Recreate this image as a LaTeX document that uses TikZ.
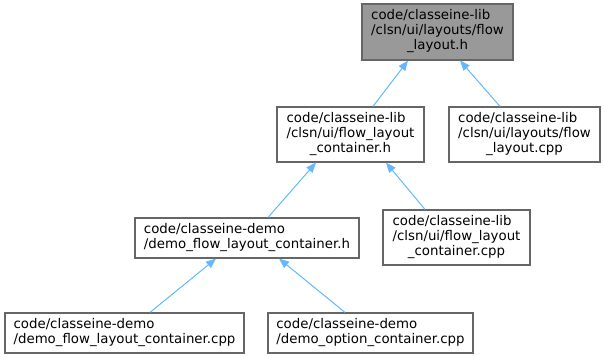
\documentclass[tikz,border=0pt]{standalone}
\usepackage{fontspec}
\setmainfont{DejaVu Sans}
\usetikzlibrary{arrows.meta}
\newdimen\pxu \pxu=0.75pt
\definecolor{edgeblue}{HTML}{63B8FF}
\definecolor{boxline}{HTML}{666666}
\definecolor{rootfill}{HTML}{999999}
\newcommand{\twolines}[2]{\begin{tabular}{@{}l@{}}#1\\#2\end{tabular}}
\newcommand{\threelines}[3]{\begin{tabular}{@{}l@{}}#1\\#2\\\multicolumn{1}{@{}c@{}}{#3}\end{tabular}}
\begin{document}
\begin{tikzpicture}[x=0.75pt,y=-0.75pt,
  file/.style={draw=boxline, line width=0.9pt, fill=white, inner sep=0pt,
    font=\fontsize{10}{11.25}\selectfont},
  rootfile/.style={file, fill=rootfill},
  edge/.style={draw=edgeblue, line width=0.75pt,
    -{Triangle[length=7.5pt,width=6pt]}}]
\useasboundingbox (0,0) rectangle (605,359);

% include hierarchy
\node[rootfile, minimum width=151\pxu, minimum height=56\pxu] (root) at (437.5,32)
  {\threelines{code/classeine-lib}{/clsn/ui/layouts/flow}{\_layout.h}};
\node[file, minimum width=147\pxu, minimum height=55\pxu] (flch) at (350.5,134.5)
  {\threelines{code/classeine-lib}{/clsn/ui/flow\_layout}{\_container.h}};
\node[file, minimum width=151\pxu, minimum height=55\pxu] (flcpp) at (524.5,134.5)
  {\threelines{code/classeine-lib}{/clsn/ui/layouts/flow}{\_layout.cpp}};
\node[file, minimum width=224\pxu, minimum height=40\pxu] (demoh) at (247,238)
  {\twolines{code/classeine-demo}{/demo\_flow\_layout\_container.h}};
\node[file, minimum width=147\pxu, minimum height=55\pxu] (flccpp) at (456.5,237.5)
  {\threelines{code/classeine-lib}{/clsn/ui/flow\_layout}{\_container.cpp}};
\node[file, minimum width=239\pxu, minimum height=40\pxu] (democpp) at (124.5,333)
  {\twolines{code/classeine-demo}{/demo\_flow\_layout\_container.cpp}};
\node[file, minimum width=205\pxu, minimum height=40\pxu] (optcpp) at (370.5,333)
  {\twolines{code/classeine-demo}{/demo\_option\_container.cpp}};

% dependency arrows
\draw[edge] ([xshift=22.5\pxu]flch.north) -- ([xshift=-29.5\pxu]root.south);
\draw[edge] ([xshift=-24.5\pxu]flcpp.north) -- ([xshift=22.5\pxu]root.south);
\draw[edge] ([xshift=21\pxu]demoh.north) -- ([xshift=-34.5\pxu]flch.south);
\draw[edge] ([xshift=-31.5\pxu]flccpp.north) -- ([xshift=35.5\pxu]flch.south);
\draw[edge] ([xshift=25.5\pxu]democpp.north) -- ([xshift=-31\pxu]demoh.south);
\draw[edge] ([xshift=-25.5\pxu]optcpp.north) -- ([xshift=32\pxu]demoh.south);
\end{tikzpicture}
\end{document}
